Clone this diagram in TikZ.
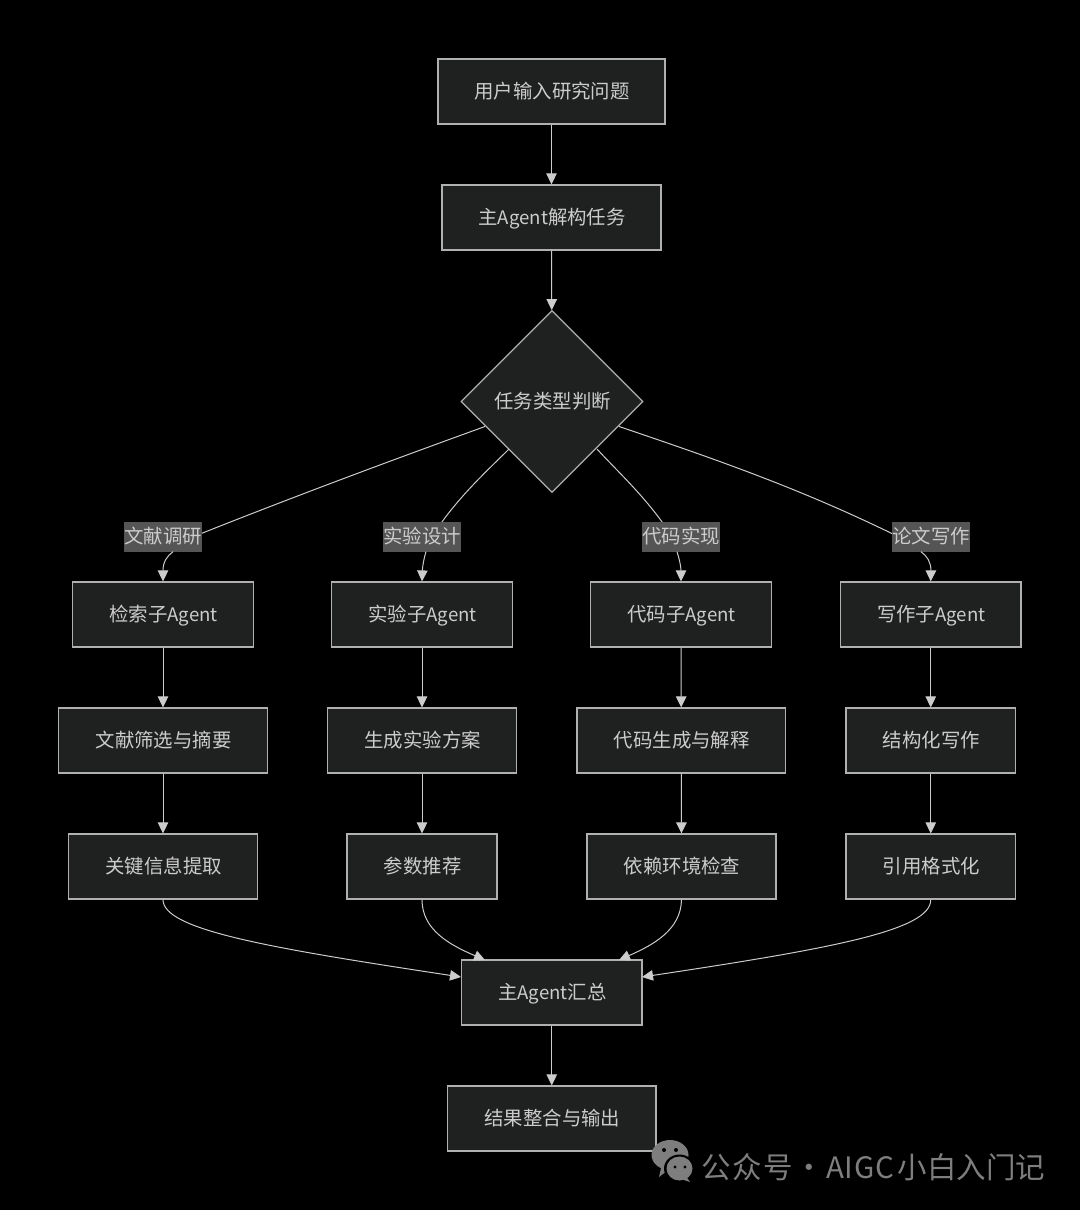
\documentclass[tikz,border=0pt]{standalone}
\usepackage{fontspec}
\setmainfont{Noto Sans CJK SC}
\usetikzlibrary{arrows.meta,shapes.geometric}
\definecolor{bgc}{HTML}{000000}
\definecolor{boxfill}{HTML}{1F2020}
\definecolor{boxline}{HTML}{B0B0B0}
\definecolor{txt}{HTML}{CCCCCC}
\definecolor{lab}{HTML}{555555}
\definecolor{wm}{HTML}{7E7E7E}
\tikzset{
 px/.style={x=1pt,y=-1pt},
 flow/.style={draw=boxline,line width=1.2pt,fill=boxfill,text=txt,font=\fontsize{19.4}{22}\selectfont,inner sep=0pt,anchor=center,text height=16.5pt,text depth=3pt},
 link/.style={draw=txt,line width=1pt,-{Triangle[length=11pt,width=10.5pt,fill=txt]}},
 plain/.style={draw=txt,line width=1pt},
 tag/.style={fill=lab,text=txt,font=\fontsize{19.4}{22}\selectfont,minimum width=78pt,minimum height=30pt,inner sep=0pt,anchor=center},
}
\newcommand{\ag}{{\fontsize{18.6}{22}\selectfont Agent}}
\newcommand{\bx}[6]{% name x1 y1 x2 y2 text
 \pgfmathsetmacro{\bw}{#4-#2}\pgfmathsetmacro{\bh}{#5-#3}
 \pgfmathsetmacro{\bcx}{(#4+#2)/2}\pgfmathsetmacro{\bcy}{(#5+#3)/2}
 \node[flow,minimum width=\bw pt,minimum height=\bh pt] (#1) at (\bcx,\bcy) {\hspace{1.2pt}#6};}
\begin{document}
\begin{tikzpicture}[px]
\useasboundingbox (0,0) rectangle (1080,1210);
\fill[bgc] (0,0) rectangle (1080,1210);
\bx{a}{438}{59}{665}{124}{用户输入研究问题}
\bx{b}{442}{185}{661}{250}{主\ag 解构任务}
\node[flow,diamond,aspect=1,minimum width=182pt,minimum height=182pt] (d) at (552,401.5) {\hspace{1.2pt}任务类型判断};
\bx{s1}{72.5}{582}{253.5}{647}{检索子\ag}
\bx{s2}{331.5}{582}{512.5}{647}{实验子\ag}
\bx{s3}{590.5}{582}{771.5}{647}{代码子\ag}
\bx{s4}{840.5}{582}{1021}{647}{写作子\ag}
\bx{m1}{58.5}{708}{267.5}{773}{文献筛选与摘要}
\bx{m2}{327.5}{708}{516.5}{773}{生成实验方案}
\bx{m3}{577}{708}{785.5}{773}{代码生成与解释}
\bx{m4}{846}{708}{1015.5}{773}{结构化写作}
\bx{r1}{68.5}{834}{257.5}{899}{关键信息提取}
\bx{r2}{347}{834}{497}{899}{参数推荐}
\bx{r3}{587}{834}{776}{899}{依赖环境检查}
\bx{r4}{846}{834}{1015.5}{899}{引用格式化}
\bx{h}{461.5}{960}{642}{1025}{主\ag 汇总}
\bx{o}{447.5}{1086}{656}{1151}{结果整合与输出}
\draw[link] (a) -- (b);
\draw[link] (b) -- (d);
\coordinate (dl) at (485,426.5);
\coordinate (dml) at (509,449);
\coordinate (dmr) at (597,449);
\coordinate (dr) at (619,426.5);
\draw[plain] (dl) .. controls (395,459) and (290,498) .. (190,538);
\draw[plain] (dml) .. controls (488,470) and (458,497) .. (435,532);
\draw[plain] (dmr) .. controls (616,470) and (646,497) .. (669,532);
\draw[plain] (dr) .. controls (715,459) and (805,490) .. (905,540);
\node[tag] (t1) at (163,536.5) {文献调研};
\node[tag] (t2) at (422,536.5) {实验设计};
\node[tag] (t3) at (681,536.5) {代码实现};
\node[tag] (t4) at (931,536.5) {论文写作};
\draw[link] (t1.south) ++(10,0) .. controls (167,556) and (163,562) .. (s1.north);
\draw[link] (t2.south) ++(4,0) .. controls (424,558) and (422.5,566) .. (s2.north);
\draw[link] (t3.south) ++(-4,0) .. controls (679,558) and (681,566) .. (s3.north);
\draw[link] (t4.south) ++(-10,0) .. controls (927,556) and (931,562) .. (s4.north);
\foreach \c in {1,2,3,4}{
 \draw[link] (s\c) -- (m\c);
 \draw[link] (m\c) -- (r\c);
}
\coordinate (h1) at (461,977);
\coordinate (h2) at (485,960);
\coordinate (h3) at (619,960);
\coordinate (h4) at (642,977);
\draw[link] (r1.south) .. controls (163,930) and (270,948) .. (h1);
\draw[link] (r2.south) .. controls (422,930) and (450,945) .. (h2);
\draw[link] (r3.south) .. controls (681,930) and (653,945) .. (h3);
\draw[link] (r4.south) .. controls (931,930) and (835,948) .. (h4);
\draw[link] (h) -- (o);
% watermark
\fill[wm] (670,1155) ellipse (18.5pt and 15pt);
\fill[wm] (672,1167) -- (659,1177) -- (662,1164) -- cycle;
\fill[bgc] (679.5,1168.5) ellipse (15.5pt and 14pt);
\fill[wm] (679.5,1168.5) ellipse (13pt and 12pt);
\fill[wm] (686,1176) -- (690,1182) -- (681,1179) -- cycle;
\fill[bgc] (664,1150) circle (2pt) (676,1150) circle (2pt) (675,1167) circle (1.7pt) (685,1167) circle (1.7pt);
\node[text=wm,font=\fontsize{29.5}{34}\selectfont,anchor=west,inner sep=0pt] (wmtext) at (701,1167) {公\kern1.5pt 众\kern1.5pt 号\kern1.6pt ·\kern2.6pt A\kern.6pt I\kern.6pt G\kern.6pt C\kern4pt 小白入门记};
\end{tikzpicture}
\end{document}
